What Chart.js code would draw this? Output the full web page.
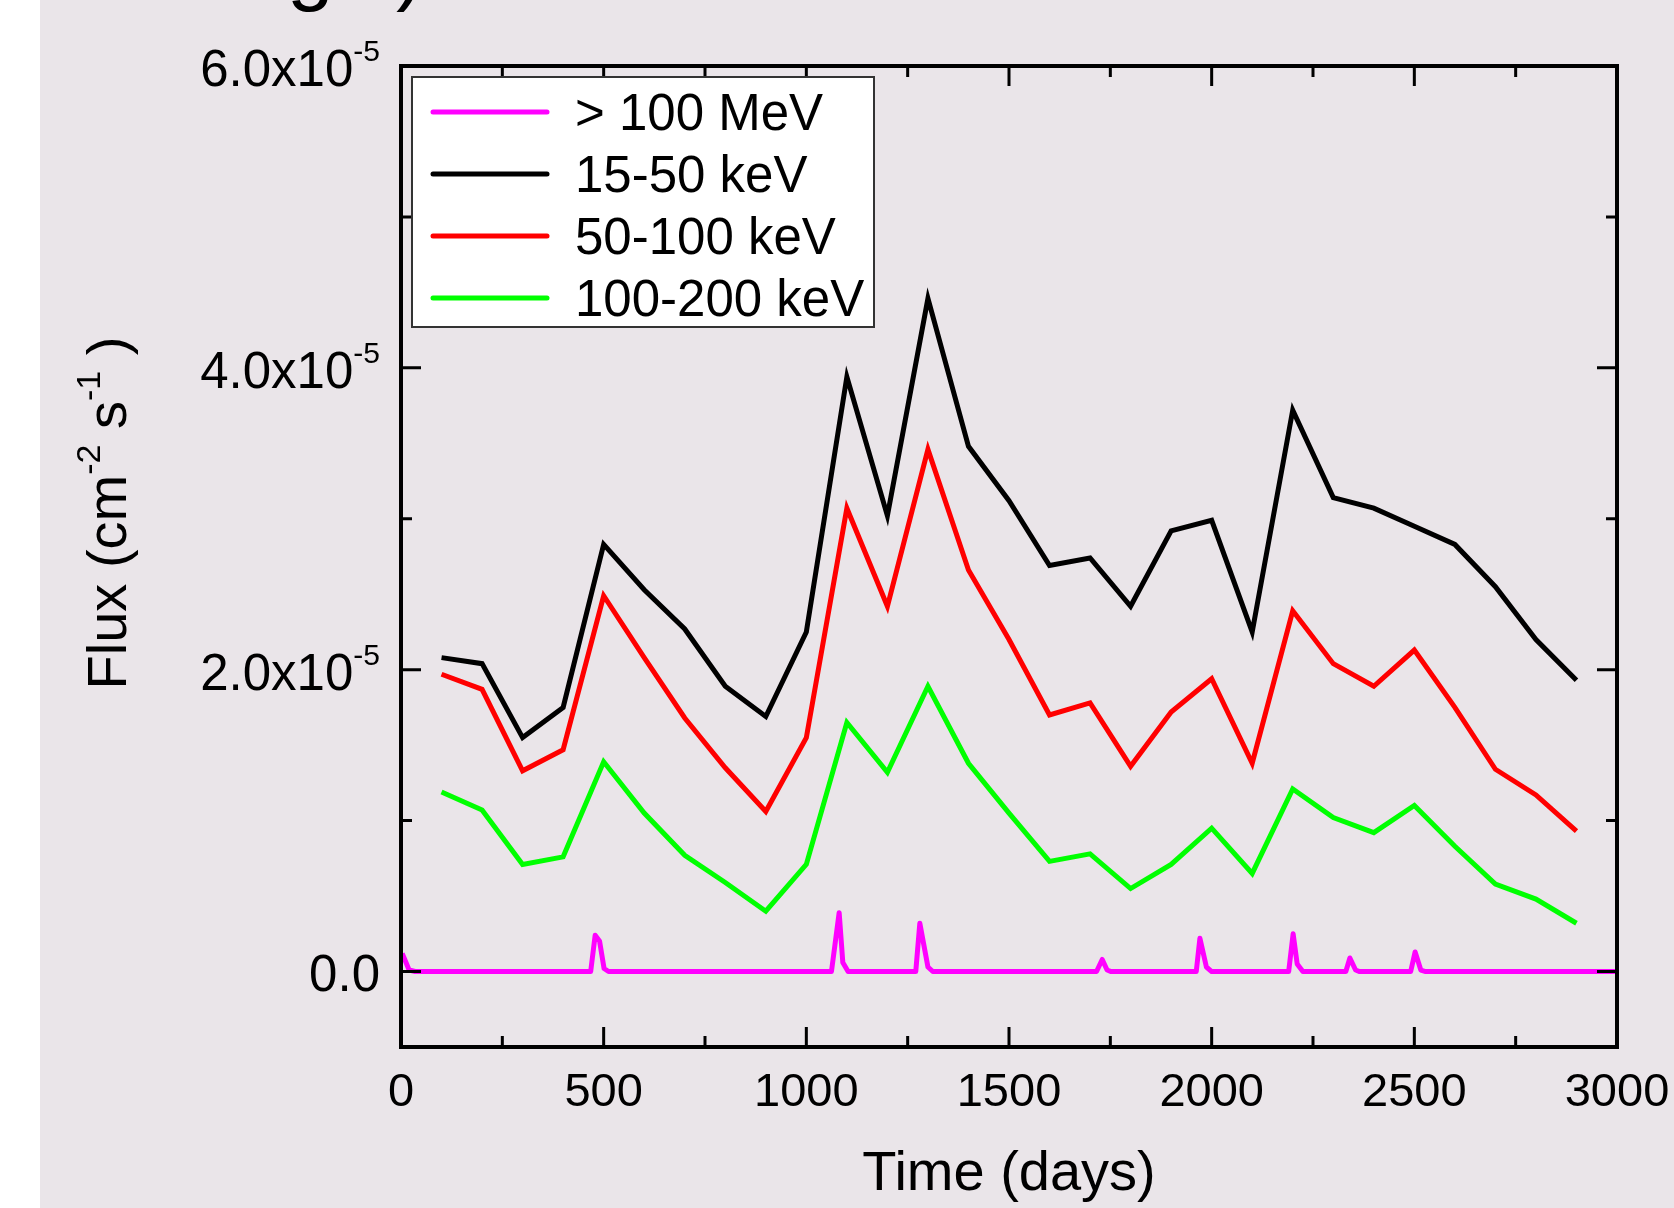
<!DOCTYPE html>
<html>
<head>
<meta charset="utf-8">
<script src="https://cdn.jsdelivr.net/npm/chart.js@4.4.0/dist/chart.umd.min.js"></script>
<style>
html,body{margin:0;padding:0;background:#ffffff;}
#wrap{position:relative;width:1674px;height:1208px;}
canvas{display:block;}
</style>
</head>
<body>
<div id="wrap"><canvas id="c" width="1674" height="1208"></canvas></div>
<script>
// ---------------- data ----------------
const days = [100,200,300,400,500,600,700,800,900,1000,1100,1200,1300,1400,1500,
              1600,1700,1800,1900,2000,2100,2200,2300,2400,2500,2600,2700,2800,2900];
const flux15to50 = [2.08,2.04,1.55,1.75,2.83,2.53,2.27,1.89,1.69,2.25,3.94,3.02,4.46,3.48,3.12,
                    2.69,2.74,2.42,2.92,2.99,2.25,3.72,3.14,3.07,2.95,2.83,2.55,2.20,1.93].map(v => v * 1e-5);
const flux50to100 = [1.97,1.87,1.33,1.47,2.49,2.08,1.68,1.35,1.06,1.55,3.07,2.42,3.46,2.66,2.20,
                     1.70,1.78,1.36,1.72,1.94,1.38,2.39,2.04,1.89,2.13,1.75,1.34,1.17,0.93].map(v => v * 1e-5);
const flux100to200 = [1.19,1.07,0.71,0.76,1.39,1.05,0.77,0.59,0.40,0.71,1.65,1.32,1.89,1.38,1.05,
                      0.73,0.78,0.55,0.71,0.95,0.65,1.21,1.02,0.92,1.10,0.83,0.58,0.48,0.32].map(v => v * 1e-5);
const gevDays = [3,20,35, 468,479,490,501,512, 1062,1081,1090,1103, 1270,1280,1300,1312,
                 1716,1730,1742,1752, 1962,1971,1987,2000, 2190,2201,2211,2225,
                 2331,2341,2355,2365, 2491,2502,2516,2528, 3000];
const gevFlux = [0.12,0.01,0, 0,0.24,0.20,0.02,0, 0,0.39,0.06,0, 0,0.32,0.03,0,
                 0,0.08,0.01,0, 0,0.22,0.03,0, 0,0.25,0.05,0,
                 0,0.09,0.01,0, 0,0.13,0.01,0, 0].map(v => v * 1e-5);
const seriesLabels = ['> 100 MeV', '15-50 keV', '50-100 keV', '100-200 keV'];
const seriesColors = ['#FF00FF', '#000000', '#FF0000', '#00FF00'];
const yTickValues = [0, 2e-5, 4e-5, 6e-5];
const yTickMantissa = ['0.0', '2.0', '4.0', '6.0'];
const yTickExponent = '-5';
const yMinorValues = [1e-5, 3e-5, 5e-5];
const xMajorValues = [0,500,1000,1500,2000,2500,3000];
const xMinorValues = [250,750,1250,1750,2250,2750];
const xTitle = 'Time (days)';
const yTitleParts = [['Flux (cm', false], ['-2', true], [' s', false], ['-1', true], [' )', false]];

// ---------------- drawing ----------------
const FONT = '"Liberation Sans", Arial, Helvetica, sans-serif';
const BG = '#EAE5E9';

const bgPlugin = {
  id: 'bg',
  beforeDraw(chart) {
    const c = chart.ctx;
    c.save();
    c.fillStyle = BG;
    c.fillRect(0, 0, chart.width, chart.height);
    c.fillStyle = '#ffffff';
    c.fillRect(0, 0, 40, chart.height);
    c.restore();
  }
};

const framePlugin = {
  id: 'frame',
  afterDraw(chart) {
    const c = chart.ctx;
    const a = chart.chartArea;
    const xs = chart.scales.x, ys = chart.scales.y;
    c.save();
    // frame
    c.strokeStyle = '#000';
    c.lineWidth = 4;
    c.strokeRect(a.left, a.top, a.right - a.left, a.bottom - a.top);
    // ticks
    c.lineWidth = 3;
    c.beginPath();
    const tick = (x1, y1, x2, y2) => { c.moveTo(x1, y1); c.lineTo(x2, y2); };
    xMajorValues.forEach(v => { const p = xs.getPixelForValue(v); tick(p, a.bottom, p, a.bottom - 20); tick(p, a.top, p, a.top + 20); });
    xMinorValues.forEach(v => { const p = xs.getPixelForValue(v); tick(p, a.bottom, p, a.bottom - 11); tick(p, a.top, p, a.top + 11); });
    yTickValues.forEach(v => { const p = ys.getPixelForValue(v); tick(a.left, p, a.left + 20, p); tick(a.right, p, a.right - 20, p); });
    yMinorValues.forEach(v => { const p = ys.getPixelForValue(v); tick(a.left, p, a.left + 11, p); tick(a.right, p, a.right - 11, p); });
    c.stroke();

    // y tick labels with superscript exponent
    c.fillStyle = '#000';
    c.textBaseline = 'alphabetic';
    c.textAlign = 'left';
    const rightEdge = 380;
    yTickValues.forEach((v, i) => {
      const p = ys.getPixelForValue(v);
      if (v === 0) {
        c.font = '51px ' + FONT;
        const w = c.measureText(yTickMantissa[i]).width;
        c.fillText(yTickMantissa[i], rightEdge - w, p + 19);
      } else {
        c.font = '30px ' + FONT;
        const ew = c.measureText(yTickExponent).width;
        c.font = '51px ' + FONT;
        const main = yTickMantissa[i] + 'x10';
        const mw = c.measureText(main).width;
        c.fillText(main, rightEdge - ew - mw, p + 20);
        c.font = '30px ' + FONT;
        c.fillText(yTickExponent, rightEdge - ew, p - 5);
      }
    });

    // y axis title (rotated, with superscripts)
    c.save();
    c.translate(126, 513);
    c.rotate(-Math.PI / 2);
    let total = 0;
    yTitleParts.forEach(([t, sup]) => { c.font = (sup ? '34px ' : '56px ') + FONT; total += c.measureText(t).width; });
    let x = -total / 2;
    yTitleParts.forEach(([t, sup]) => {
      c.font = (sup ? '34px ' : '56px ') + FONT;
      c.fillText(t, x, sup ? -26 : 0);
      x += c.measureText(t).width;
    });
    c.restore();

    // legend
    const lx = 412, ly = 77, lw = 462, lh = 250;
    c.fillStyle = '#ffffff';
    c.fillRect(lx, ly, lw, lh);
    c.strokeStyle = '#333333';
    c.lineWidth = 2;
    c.strokeRect(lx, ly, lw, lh);
    const rows = [112, 174, 236, 298];
    chart.data.datasets.forEach((ds, i) => {
      c.strokeStyle = ds.borderColor;
      c.lineWidth = 5;
      c.lineCap = 'round';
      c.beginPath();
      c.moveTo(433, rows[i]);
      c.lineTo(547, rows[i]);
      c.stroke();
      c.fillStyle = '#000';
      c.font = '51px ' + FONT;
      c.fillText(ds.label, 575, rows[i] + 18);
    });

    // clipped heading piece at the very top
    c.fillStyle = '#000';
    c.font = '84px ' + FONT;
    c.fillText('g', 287, -5);
    c.fillText(')', 396, -5);
    c.restore();
  }
};

const toPts = (xs, ys) => xs.map((d, i) => ({x: d, y: ys[i]}));
const seriesData = [toPts(gevDays, gevFlux), toPts(days, flux15to50), toPts(days, flux50to100), toPts(days, flux100to200)];

new Chart(document.getElementById('c').getContext('2d'), {
  type: 'line',
  data: {
    datasets: seriesData.map((d, i) => ({
      label: seriesLabels[i],
      data: d,
      borderColor: seriesColors[i],
      backgroundColor: seriesColors[i],
      borderWidth: 5,
      pointRadius: 0,
      tension: 0,
      fill: false,
      borderJoinStyle: i === 0 ? 'round' : 'miter'
    }))
  },
  options: {
    responsive: false,
    animation: false,
    devicePixelRatio: 1,
    layout: {padding: {top: 66, right: 57, left: 0, bottom: 0}},
    plugins: {legend: {display: false}, tooltip: {enabled: false}, title: {display: false}},
    scales: {
      x: {
        type: 'linear', min: 0, max: 3000,
        ticks: {stepSize: 500, color: '#000', font: {family: FONT, size: 47}, padding: 18, maxRotation: 0,
                callback: v => String(v)},
        grid: {display: false, drawTicks: false},
        border: {display: false},
        title: {display: true, text: xTitle, color: '#000', font: {family: FONT, size: 56}, padding: {top: 0, bottom: 0}},
        afterFit: s => { s.height = 161; s.paddingLeft = 0; s.paddingRight = 0; }
      },
      y: {
        type: 'linear', min: -0.5e-5, max: 6e-5,
        ticks: {display: false, stepSize: 1e-5},
        grid: {display: false, drawTicks: false},
        border: {display: false},
        afterFit: s => { s.width = 401; s.paddingTop = 0; s.paddingBottom = 0; }
      }
    }
  },
  plugins: [bgPlugin, framePlugin]
});
</script>
</body>
</html>
